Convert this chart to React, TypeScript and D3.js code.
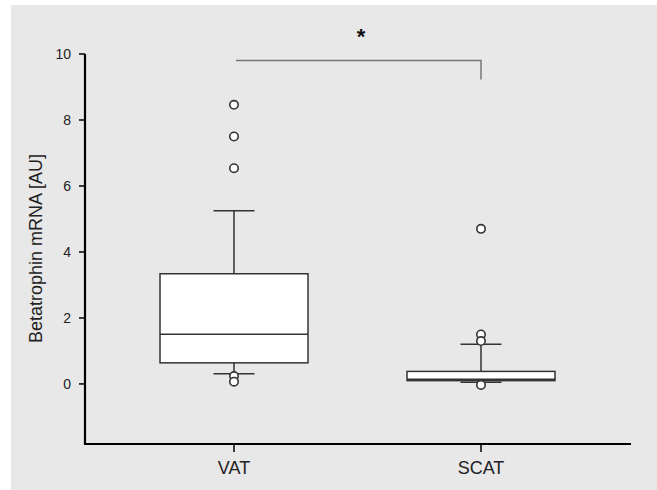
import React from "react";
import * as d3 from "d3";

const categories = ["VAT", "SCAT"];
const q1 = [0.64, 0.1];
const medians = [1.51, 0.14];
const q3 = [3.34, 0.38];
const whiskerLow = [0.31, 0.05];
const whiskerHigh = [5.25, 1.2];
const outliersVAT = [8.46, 7.5, 6.54, 0.24, 0.07];
const outliersSCAT = [4.7, 1.5, 1.3, -0.03];
const outliers = [outliersVAT, outliersSCAT];
const yTicks = [0, 2, 4, 6, 8, 10];
const yLabel = "Betatrophin mRNA [AU]";
const sigLabel = "*";

export default function App() {
  const W = 657, H = 490;
  const left = 85, right = 631, top = 54, bottom = 444;
  const y = d3.scaleLinear().domain([-1.82, 10]).range([bottom, top]);
  const x = d3.scalePoint<string>().domain(categories).range([234, 481]);
  const boxW = 148, capW = 41;
  const font = "'Liberation Sans', Arial, sans-serif";
  const stroke = "#333";

  return (
    <div style={{ position: "absolute", left: 0, top: 0 }}>
      <svg width={W} height={H} style={{ display: "block" }}>
        <rect x={0} y={0} width={W} height={H} fill="#fff" />
        <rect x={11} y={5} width={W - 11} height={H - 5} fill="#e8e8e8" />
        {categories.map((c, i) => {
          const cx = x(c)!;
          return (
            <g key={c}>
              <line x1={cx} x2={cx} y1={y(q3[i])} y2={y(whiskerHigh[i])} stroke={stroke} strokeWidth={1.5} />
              <line x1={cx} x2={cx} y1={y(q1[i])} y2={y(whiskerLow[i])} stroke={stroke} strokeWidth={1.5} />
              <line x1={cx - capW / 2} x2={cx + capW / 2} y1={y(whiskerHigh[i])} y2={y(whiskerHigh[i])} stroke={stroke} strokeWidth={1.5} />
              <line x1={cx - capW / 2} x2={cx + capW / 2} y1={y(whiskerLow[i])} y2={y(whiskerLow[i])} stroke={stroke} strokeWidth={1.5} />
              <rect x={cx - boxW / 2} y={y(q3[i])} width={boxW} height={y(q1[i]) - y(q3[i])} fill="#fff" stroke={stroke} strokeWidth={1.5} />
              <line x1={cx - boxW / 2} x2={cx + boxW / 2} y1={y(medians[i])} y2={y(medians[i])} stroke={stroke} strokeWidth={1.5} />
              {outliers[i].map((v, j) => (
                <circle key={j} cx={cx} cy={y(v)} r={4.2} fill="#fff" stroke={stroke} strokeWidth={1.6} />
              ))}
            </g>
          );
        })}
        {/* axes */}
        <line x1={left} x2={left} y1={top} y2={bottom + 1} stroke="#000" strokeWidth={2.2} />
        <line x1={left - 1} x2={right} y1={bottom} y2={bottom} stroke="#000" strokeWidth={2.2} />
        {yTicks.map((t) => (
          <g key={t}>
            <line x1={left - 6} x2={left} y1={y(t)} y2={y(t)} stroke="#000" strokeWidth={1.5} />
            <text x={left - 14} y={y(t)} dy="0.35em" textAnchor="end" fontFamily={font} fontSize={14} fill="#222">
              {t}
            </text>
          </g>
        ))}
        {categories.map((c) => (
          <g key={c}>
            <line x1={x(c)!} x2={x(c)!} y1={bottom} y2={bottom + 8} stroke="#000" strokeWidth={1.5} />
            <text x={x(c)!} y={474} textAnchor="middle" fontFamily={font} fontSize={18} fill="#222">
              {c}
            </text>
          </g>
        ))}
        <text transform={`translate(42,${248.5}) rotate(-90)`} textAnchor="middle" fontFamily={font} fontSize={18} fill="#222">
          {yLabel}
        </text>
        {/* significance bracket */}
        <path
          d={`M${x("VAT")! + 2},${y(9.8)} H${x("SCAT")!} V${y(9.8) + 19}`}
          fill="none"
          stroke="#777"
          strokeWidth={1.5}
        />
        <text x={361} y={44} textAnchor="middle" fontFamily={font} fontSize={22} fontWeight="bold" fill="#111">
          {sigLabel}
        </text>
      </svg>
    </div>
  );
}
